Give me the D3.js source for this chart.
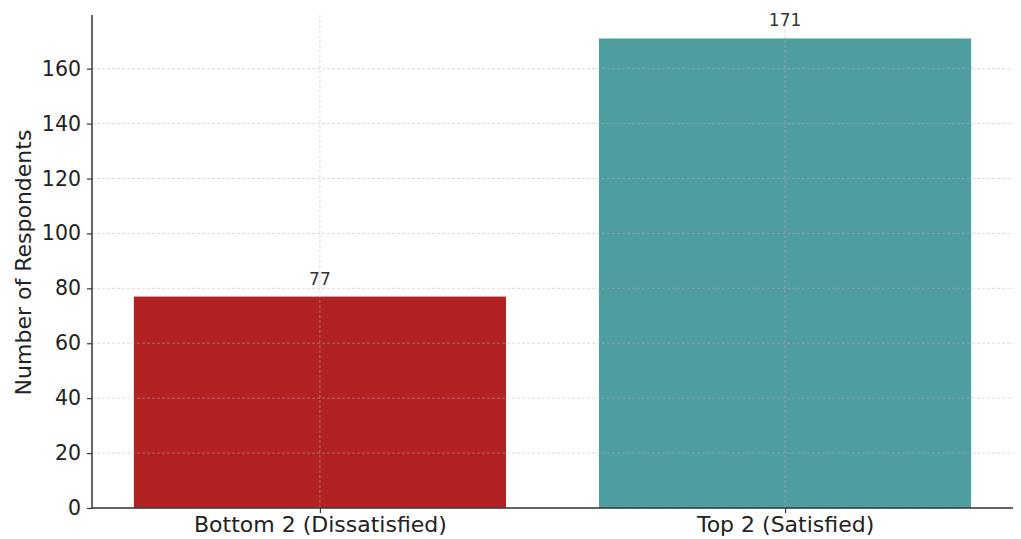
<!DOCTYPE html>
<html><head><meta charset="utf-8">
<script src="https://cdn.jsdelivr.net/npm/d3@7"></script>
<style>body{margin:0;background:#fff}svg{display:block;font-family:"DejaVu Sans",sans-serif}</style>
</head><body><svg id="c" width="1021" height="539"></svg>
<script>
const categories = ["Bottom 2 (Dissatisfied)", "Top 2 (Satisfied)"];
const values = [77, 171];
const colors = ["#B22222", "#4F9E9F"];
const yTicks = [0, 20, 40, 60, 80, 100, 120, 140, 160];
const yLabel = "Number of Respondents";

const svg = d3.select("#c");
const L = 92, R = 1013, T = 15, B = 508;
const y = d3.scaleLinear().domain([0, 171 * 1.05]).range([B, T]);
const x = d3.scaleLinear().domain([-0.49, 1.49]).range([L, R]);
const bw = 0.8;

// bars
svg.selectAll("rect.bar").data(values).join("rect")
  .attr("x", (d, i) => x(i - bw / 2)).attr("width", (d, i) => x(i + bw / 2) - x(i - bw / 2))
  .attr("y", d => y(d)).attr("height", d => B - y(d))
  .attr("fill", (d, i) => colors[i]);

// grid
const g = svg.append("g");
g.selectAll("line.h").data(yTicks).join("line")
  .attr("x1", L).attr("x2", R).attr("y1", d => y(d)).attr("y2", d => y(d))
  .attr("stroke", "#b0b0b0").attr("stroke-opacity", 0.6).attr("stroke-width", 0.8).attr("stroke-dasharray", "3,2");
g.selectAll("line.v").data(categories).join("line")
  .attr("x1", (d, i) => x(i)).attr("x2", (d, i) => x(i)).attr("y1", T).attr("y2", B)
  .attr("stroke", "#b0b0b0").attr("stroke-opacity", 0.6).attr("stroke-width", 0.8).attr("stroke-dasharray", "3,2");

// axes
const yAxis = svg.append("g").attr("transform", `translate(${L},0)`)
  .call(d3.axisLeft(y).tickValues(yTicks).tickSize(5).tickPadding(6));
const xAxis = svg.append("g").attr("transform", `translate(0,${B})`)
  .call(d3.axisBottom(x).tickValues([0, 1]).tickFormat(i => categories[i]).tickSize(5).tickPadding(3));
[yAxis, xAxis].forEach(a => {
  a.select(".domain").attr("stroke", "#333").attr("stroke-width", 1.5);
  a.selectAll(".tick line").attr("stroke", "#333").attr("stroke-width", 1.2);
  a.selectAll("text").attr("fill", "#222").attr("font-family", "DejaVu Sans");
});
yAxis.selectAll("text").attr("font-size", 20.5);
xAxis.selectAll("text").attr("font-size", 22);
yAxis.select(".domain").attr("d", `M0,${B}V${T}`);
xAxis.select(".domain").attr("d", `M${L},0H${R}`);

// value labels
svg.selectAll("text.val").data(values).join("text")
  .attr("x", (d, i) => x(i)).attr("y", d => y(d) - 12)
  .attr("text-anchor", "middle").attr("font-size", 17).attr("fill", "#333")
  .text(d => d);

// y label
svg.append("text").attr("transform", `translate(31,${(T + B) / 2 + 1}) rotate(-90)`)
  .attr("text-anchor", "middle").attr("font-size", 22).attr("fill", "#222").text(yLabel);
</script></body></html>
